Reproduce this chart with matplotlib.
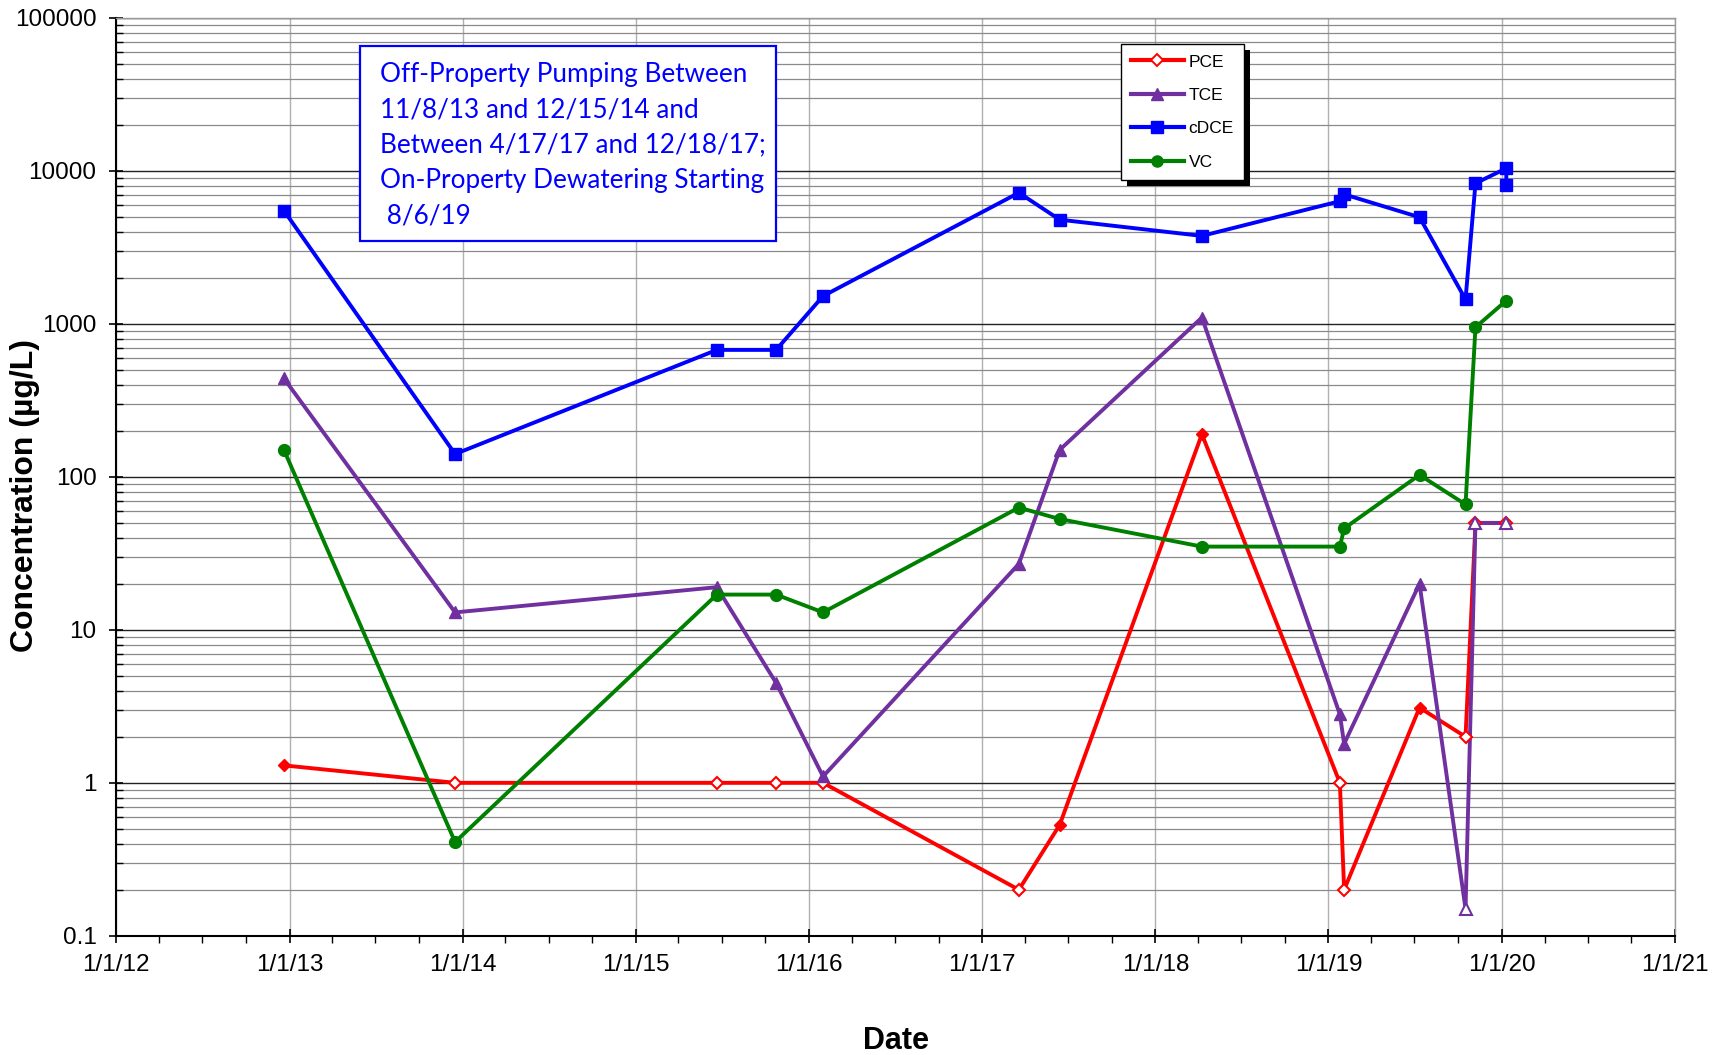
import datetime as dt
import numpy as np
import matplotlib
matplotlib.use("Agg")
import matplotlib.pyplot as plt
import matplotlib.dates as mdates
from matplotlib.lines import Line2D
from matplotlib.patches import Rectangle
from matplotlib.ticker import LogLocator, FixedFormatter, FixedLocator, NullFormatter

# sample dates
dates = ["2012-12-20", "2013-12-16", "2015-06-21", "2015-10-24", "2016-01-31",
         "2017-03-19", "2017-06-13", "2018-04-09", "2019-01-25", "2019-02-03",
         "2019-07-12", "2019-10-17", "2019-11-07", "2020-01-11"]

pce = [1.3, 1.0, 1.0, 1.0, 1.0, 0.2, 0.53, 190, 1.0, 0.2, 3.1, 2.0, 50, 50]
pce_nd = [0, 1, 1, 1, 1, 1, 0, 0, 1, 1, 0, 1, 1, 1]  # 1 = non-detect (open marker)

tce = [440, 13, 19, 4.5, 1.1, 27, 150, 1100, 2.8, 1.8, 20, 0.15, 50, 50]
tce_nd = [0, 0, 0, 0, 0, 0, 0, 0, 0, 0, 0, 1, 1, 1]

cdce_dates = dates + ["2020-01-11"]
cdce = [5500, 141, 676, 676, 1520, 7200, 4800, 3760, 6340, 7030, 4980, 1445, 8300, 10400, 8100]

vc = [150, 0.41, 17, 17, 13, 63, 53, 35, 35, 46, 103, 66, 950, 1420]

ytick_vals = [0.1, 1, 10, 100, 1000, 10000, 100000]
ytick_labels = ["0.1", "1", "10", "100", "1000", "10000", "100000"]

note = ("Off-Property Pumping Between\n11/8/13 and 12/15/14 and\n"
        "Between 4/17/17 and 12/18/17;\nOn-Property Dewatering Starting\n 8/6/19")


def to_dt(lst):
    return [dt.datetime.strptime(s, "%Y-%m-%d") for s in lst]


def plot_series(ax, x, y, color, marker, ms, nd=None):
    ax.plot(x, y, color=color, lw=2.8, zorder=3)
    x = np.array(x)
    y = np.array(y)
    if nd is None:
        nd = np.zeros(len(y), dtype=int)
    nd = np.array(nd, dtype=bool)
    ax.plot(x[~nd], y[~nd], ls="none", marker=marker, ms=ms, mfc=color, mec=color, zorder=4)
    ax.plot(x[nd], y[nd], ls="none", marker=marker, ms=ms, mfc="white", mec=color, mew=1.5, zorder=4)


plt.rcParams['font.family'] = ['Liberation Sans', 'DejaVu Sans']

fig = plt.figure(figsize=(17.17, 10.55), dpi=100)
ax = fig.add_axes([0.0676, 0.113, 0.908, 0.870])

x = to_dt(dates)
plot_series(ax, x, pce, "#FF0000", "D", 6.5, pce_nd)
plot_series(ax, x, tce, "#7030A0", "^", 8.5, tce_nd)
plot_series(ax, to_dt(cdce_dates), cdce, "#0000FF", "s", 8.5)
plot_series(ax, x, vc, "#008000", "o", 8.5)

ax.set_yscale("log")
ax.set_ylim(0.1, 100000)
ax.set_xlim(dt.datetime(2012, 1, 1), dt.datetime(2021, 1, 1))

ax.yaxis.set_major_locator(FixedLocator(ytick_vals))
ax.yaxis.set_major_formatter(FixedFormatter(ytick_labels))
ax.yaxis.set_minor_locator(LogLocator(base=10, subs=np.arange(2, 10)))
ax.yaxis.set_minor_formatter(NullFormatter())

ax.xaxis.set_major_locator(mdates.YearLocator())
ax.xaxis.set_major_formatter(mdates.DateFormatter("%-m/%-d/%y"))
ax.xaxis.set_minor_locator(mdates.MonthLocator(bymonth=[4, 7, 10]))

ax.grid(True, which="major", axis="y", color="#222222", lw=1.0, zorder=0)
ax.grid(True, which="minor", axis="y", color="#8a8a8a", lw=0.9, zorder=0)
ax.grid(True, which="major", axis="x", color="#b0b0b0", lw=1.0, zorder=0)

ax.tick_params(axis="both", which="major", labelsize=17.5, direction="inout", length=10, width=1.2)
ax.tick_params(axis="x", which="minor", direction="out", length=5, width=1.0)
ax.tick_params(axis="y", which="minor", direction="in", length=5, width=1.0)
ax.tick_params(axis="x", which="major", pad=8)
ax.tick_params(axis="y", which="major", pad=9)
for s in ["top", "right"]:
    ax.spines[s].set_color("#999999")
    ax.spines[s].set_linewidth(1.0)
for s in ["left", "bottom"]:
    ax.spines[s].set_color("black")
    ax.spines[s].set_linewidth(1.5)

ax.set_ylabel("Concentration (µg/L)", fontsize=23, fontweight="bold")
ax.yaxis.set_label_coords(-0.0487, 0.48)
ax.set_xlabel("Date", fontsize=22, fontweight="bold", labelpad=36)

# annotation box
box_x0, box_x1 = (329 - 106) / 1424, (709 - 106) / 1424
box_y0, box_y1 = (854 - 220) / 838, (854 - 42) / 838
ax.add_patch(Rectangle((box_x0, box_y0), box_x1 - box_x0, box_y1 - box_y0,
                       transform=ax.transAxes, fc="white", ec="#0000FF", lw=1.6, zorder=6))
ax.text((347 - 106) / 1424, (854 - 56) / 838, note, transform=ax.transAxes, fontsize=18.8,
        color="#0000FF", family=['Lato', 'DejaVu Sans'], va="top", ha="left",
        linespacing=1.52, zorder=7)

# legend
handles = [
    Line2D([], [], color="#FF0000", lw=3, marker="D", ms=6, mfc="white", mec="#FF0000", mew=1.4),
    Line2D([], [], color="#7030A0", lw=3, marker="^", ms=8),
    Line2D([], [], color="#0000FF", lw=3, marker="s", ms=8),
    Line2D([], [], color="#008000", lw=3, marker="o", ms=8),
]
leg = fig.legend(handles, ["PCE", "TCE", "cDCE", "VC"], loc="upper left",
                 bbox_to_anchor=(1121 / 1717, 1 - 44 / 1055), fontsize=12.5,
                 frameon=True, fancybox=False, edgecolor="black", framealpha=1,
                 handlelength=3.0, handletextpad=0.3, labelspacing=1.05,
                 borderpad=0.6, borderaxespad=0)
leg.get_frame().set_linewidth(1.0)
leg.set_zorder(10)

fig.canvas.draw()
bb = leg.get_window_extent().transformed(fig.transFigure.inverted())
shadow = Rectangle((bb.x0 + 6 / 1717, bb.y0 - 6 / 1055), bb.width, bb.height,
                   transform=fig.transFigure, fc="black", ec="none", zorder=9)
fig.add_artist(shadow)

fig.savefig("out.png", dpi=100)
